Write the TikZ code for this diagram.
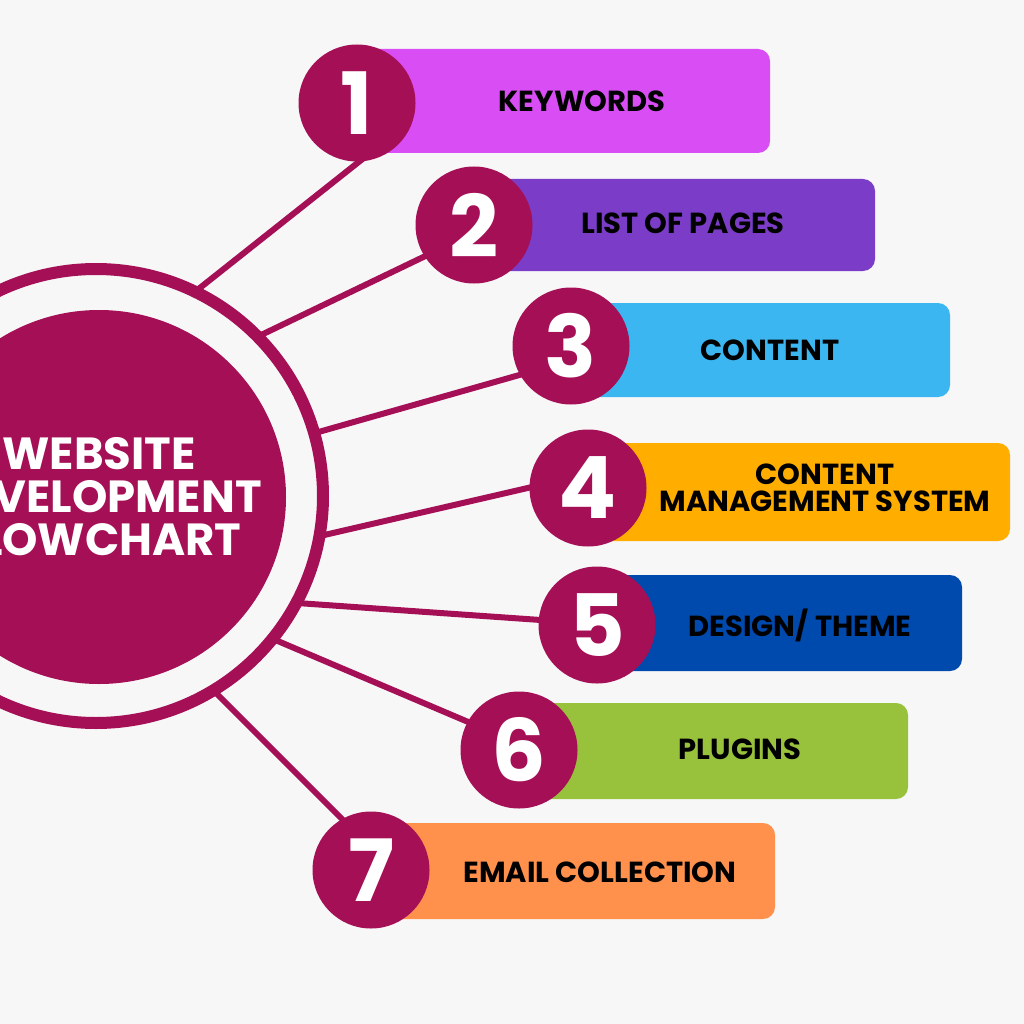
\documentclass[tikz,border=0pt]{standalone}
\usepackage{fontspec}
\setmainfont{Poppins}
\definecolor{bg}{HTML}{F7F7F7}
\definecolor{mag}{HTML}{A50F56}
\definecolor{c1}{HTML}{D94DF5}
\definecolor{c2}{HTML}{7B3DC8}
\definecolor{c3}{HTML}{3BB6F0}
\definecolor{c4}{HTML}{FFAE00}
\definecolor{c5}{HTML}{004AAD}
\definecolor{c6}{HTML}{98C13C}
\definecolor{c7}{HTML}{FF914D}
\begin{document}
\begin{tikzpicture}[x=1pt,y=-1pt,
  numc/.style={circle, fill=mag, minimum size=117pt, inner sep=0pt, text=white,
    font=\fontsize{86}{86}\selectfont\bfseries},
  barbox/.style={rounded corners=12pt, inner sep=0pt},
  lbl/.style={text=black, align=center, font=\fontsize{29}{27}\selectfont\bfseries},
  link/.style={draw=mag, line width=6pt}]
\fill[bg] (0,0) rectangle (1024,1024);
\useasboundingbox (0,0) rectangle (1024,1024);
\clip (0,0) rectangle (1024,1024);
% ring anchors and connector ends
\coordinate (a1) at (196,291); \coordinate (e1) at (365,157);
\coordinate (a2) at (259,336); \coordinate (e2) at (440,249);
\coordinate (a3) at (315,433); \coordinate (e3) at (530,372);
\coordinate (a4) at (320,536); \coordinate (e4) at (545,484);
\coordinate (a5) at (297,603); \coordinate (e5) at (555,621);
\coordinate (a6) at (273,639); \coordinate (e6) at (480,727);
\coordinate (a7) at (214,691); \coordinate (e7) at (350,827);
\foreach \i in {1,...,7} { \draw[link] (a\i) -- (e\i); }
% central circle
\node[circle, draw=mag, line width=12pt, minimum size=454pt, inner sep=0pt] (ring) at (96,496) {};
\node[circle, fill=mag, minimum size=374pt, inner sep=0pt, text=white, align=center,
  font=\fontsize{45}{43}\selectfont\bfseries] (hub) at (99,497) {WEBSITE\\DEVELOPMENT\\FLOWCHART};
% bars
\node[barbox, fill=c1, minimum width=413pt, minimum height=104pt] (b1) at (563.5,101) {};
\node[barbox, fill=c2, minimum width=401pt, minimum height=92pt] (b2) at (674.5,225) {};
\node[barbox, fill=c3, minimum width=379pt, minimum height=94pt] (b3) at (760.5,350) {};
\node[barbox, fill=c4, minimum width=422pt, minimum height=98pt] (b4) at (799,492) {};
\node[barbox, fill=c5, minimum width=365pt, minimum height=96pt] (b5) at (779.5,623) {};
\node[barbox, fill=c6, minimum width=389pt, minimum height=96pt] (b6) at (713.5,751) {};
\node[barbox, fill=c7, minimum width=404pt, minimum height=96pt] (b7) at (573,871) {};
% labels
\node[lbl] (l1) at (582,101) {KEYWORDS};
\node[lbl] (l2) at (683,223) {LIST OF PAGES};
\node[lbl] (l3) at (770,350) {CONTENT};
\node[lbl] (l4) at (825,488) {CONTENT\\MANAGEMENT SYSTEM};
\node[lbl] (l5) at (800,625) {DESIGN/ THEME};
\node[lbl] (l6) at (740,749) {PLUGINS};
\node[lbl] (l7) at (600,872) {EMAIL COLLECTION};
% number circles
\node[numc] (n1) at (357,103) {1};
\node[numc] (n2) at (474,225) {2};
\node[numc] (n3) at (571,346) {3};
\node[numc] (n4) at (588,488) {4};
\node[numc] (n5) at (597,625) {5};
\node[numc] (n6) at (519,750) {6};
\node[numc] (n7) at (371,870) {7};
\end{tikzpicture}
\end{document}
